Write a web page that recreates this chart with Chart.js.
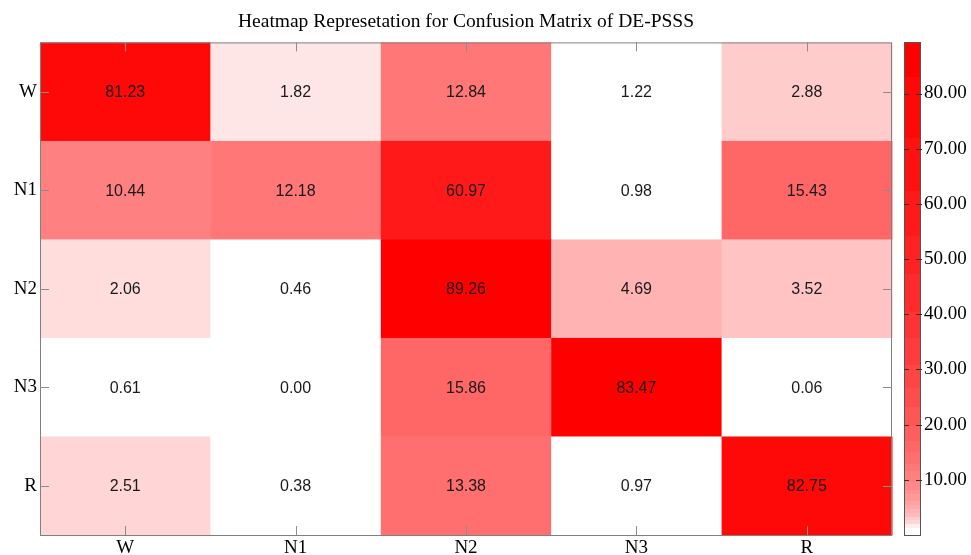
<!DOCTYPE html>
<html>
<head>
<meta charset="utf-8">
<title>Confusion Matrix Heatmap</title>
<script src="https://cdn.jsdelivr.net/npm/chart.js@4.4.0/dist/chart.umd.min.js"></script>
<style>
  html, body { margin: 0; padding: 0; background: #fff; }
  #wrap { width: 971px; height: 555px; }
</style>
</head>
<body>
<div id="wrap"><canvas id="heatmap"></canvas></div>
<script>
// sleep stages, used for both axes (rows = true class, columns = predicted)
var classes = ["W", "N1", "N2", "N3", "R"];

// percentages per row
var rowW  = [81.23, 1.82, 12.84, 1.22, 2.88];
var rowN1 = [10.44, 12.18, 60.97, 0.98, 15.43];
var rowN2 = [2.06, 0.46, 89.26, 4.69, 3.52];
var rowN3 = [0.61, 0.00, 15.86, 83.47, 0.06];
var rowR  = [2.51, 0.38, 13.38, 0.97, 82.75];

var colorbarTicks = [10, 20, 30, 40, 50, 60, 70, 80];

var rows = [rowW, rowN1, rowN2, rowN3, rowR];
var vmax = Math.max.apply(null, rows.map(function (r) { return Math.max.apply(null, r); }));

var cells = [];
rows.forEach(function (r, i) {
  r.forEach(function (v, j) {
    cells.push({ x: j, y: i, v: v });
  });
});

// white -> red, log scaled from a small floor, 30 colour levels
var levels = 30;
var vfloor = 1.25;
function heatColor(v) {
  var t = v > vfloor ? Math.log(v / vfloor) / Math.log(vmax / vfloor) : 0;
  t = Math.max(0, Math.min(1, t));
  t = Math.round(t * levels) / levels;
  var g = Math.round(255 * (1 - t));
  return 'rgb(255,' + g + ',' + g + ')';
}

var serif = '"Liberation Serif", "Times New Roman", serif';

var heatmapPlugin = {
  id: 'heatmapPlugin',
  beforeDatasetsDraw: function (chart) {
    var ctx = chart.ctx, x = chart.scales.x, y = chart.scales.y;
    ctx.save();
    chart.data.datasets[0].data.forEach(function (p) {
      var x0 = x.getPixelForValue(p.x - 0.5), x1 = x.getPixelForValue(p.x + 0.5);
      var y0 = y.getPixelForValue(p.y - 0.5), y1 = y.getPixelForValue(p.y + 0.5);
      ctx.fillStyle = heatColor(p.v);
      ctx.fillRect(Math.min(x0, x1), Math.min(y0, y1), Math.abs(x1 - x0) + 0.5, Math.abs(y1 - y0) + 0.5);
    });
    ctx.restore();
  },
  afterDatasetsDraw: function (chart) {
    var ctx = chart.ctx, a = chart.chartArea;
    var x = chart.scales.x, y = chart.scales.y, c = chart.scales.c;
    ctx.save();

    // cell values
    ctx.font = '16px "Liberation Sans", Arial, sans-serif';
    ctx.fillStyle = '#1a1a1a';
    ctx.textAlign = 'center';
    ctx.textBaseline = 'middle';
    chart.data.datasets[0].data.forEach(function (p) {
      ctx.fillText(p.v.toFixed(2), x.getPixelForValue(p.x), y.getPixelForValue(p.y) + 1);
    });

    // frame and inward ticks
    ctx.strokeStyle = '#808080';
    ctx.lineWidth = 1;
    ctx.strokeRect(a.left + 0.5, a.top + 0.5, a.right - a.left - 1, a.bottom - a.top);
    ctx.strokeStyle = '#8c8c8c';
    ctx.beginPath();
    classes.forEach(function (_, i) {
      var px = Math.round(x.getPixelForValue(i)) + 0.5;
      ctx.moveTo(px, a.bottom); ctx.lineTo(px, a.bottom - 9);
      ctx.moveTo(px, a.top); ctx.lineTo(px, a.top + 9);
      var py = Math.round(y.getPixelForValue(i)) + 0.5;
      ctx.moveTo(a.left, py); ctx.lineTo(a.left + 9, py);
      ctx.moveTo(a.right, py); ctx.lineTo(a.right - 9, py);
    });
    ctx.stroke();

    // colorbar
    var bx = a.right + 12, bw = 17;
    var steps = 130, dv = vmax / steps;
    for (var k = 0; k < steps; k++) {
      var v0 = k * dv, v1 = (k + 1) * dv;
      var yA = c.getPixelForValue(v1), yB = c.getPixelForValue(v0);
      ctx.fillStyle = heatColor((v0 + v1) / 2);
      ctx.fillRect(bx, Math.floor(yA), bw, Math.ceil(yB) - Math.floor(yA));
    }
    ctx.strokeStyle = '#555';
    ctx.strokeRect(bx + 0.5, a.top + 0.5, bw - 1, a.bottom - a.top);
    ctx.strokeStyle = '#333';
    ctx.beginPath();
    colorbarTicks.forEach(function (t) {
      var py = Math.round(c.getPixelForValue(t)) + 0.5;
      ctx.moveTo(bx, py); ctx.lineTo(bx + 5, py);
      ctx.moveTo(bx + bw - 5, py); ctx.lineTo(bx + bw + 1, py);
    });
    ctx.stroke();
    ctx.restore();
  }
};

function classTicks(scale) {
  scale.ticks = classes.map(function (_, i) { return { value: i }; });
}

// keep the label overhang from shrinking the plot
function noEdgePadding(s) {
  s.paddingTop = 0;
  s.paddingBottom = 0;
  s.paddingLeft = 0;
  s.paddingRight = 0;
}

new Chart(document.getElementById('heatmap').getContext('2d'), {
  type: 'scatter',
  data: {
    datasets: [{
      data: cells,
      pointRadius: 0,
      pointHoverRadius: 0
    }]
  },
  options: {
    responsive: true,
    maintainAspectRatio: false,
    animation: false,
    events: [],
    layout: { padding: 0 },
    plugins: {
      legend: { display: false },
      tooltip: { enabled: false },
      title: {
        display: true,
        text: 'Heatmap Represetation for Confusion Matrix of DE-PSSS',
        fullSize: false,
        color: '#000',
        font: { family: serif, size: 19.5, weight: 'normal' },
        padding: { top: 10, bottom: 9 }
      }
    },
    scales: {
      x: {
        type: 'linear',
        position: 'bottom',
        min: -0.5,
        max: 4.5,
        afterBuildTicks: classTicks,
        afterFit: function (s) { s.height = 20; noEdgePadding(s); },
        grid: { display: false, drawTicks: false },
        border: { display: false },
        ticks: {
          padding: 2,
          color: '#000',
          font: { family: serif, size: 19 },
          callback: function (v) { return classes[v]; }
        }
      },
      y: {
        type: 'linear',
        position: 'left',
        reverse: true,
        min: -0.5,
        max: 4.5,
        afterBuildTicks: classTicks,
        afterFit: function (s) { s.width = 40; noEdgePadding(s); },
        grid: { display: false, drawTicks: false },
        border: { display: false },
        ticks: {
          padding: 3,
          color: '#000',
          font: { family: serif, size: 19 },
          callback: function (v) { return classes[v]; }
        }
      },
      c: {
        type: 'linear',
        position: 'right',
        min: 0,
        max: vmax,
        afterBuildTicks: function (s) {
          s.ticks = colorbarTicks.map(function (t) { return { value: t }; });
        },
        afterFit: function (s) { s.width = 79; noEdgePadding(s); },
        grid: { display: false, drawTicks: false },
        border: { display: false },
        ticks: {
          padding: 32,
          color: '#000',
          font: { family: serif, size: 19 },
          callback: function (v) { return v.toFixed(2); }
        }
      }
    }
  },
  plugins: [heatmapPlugin]
});
</script>
</body>
</html>
